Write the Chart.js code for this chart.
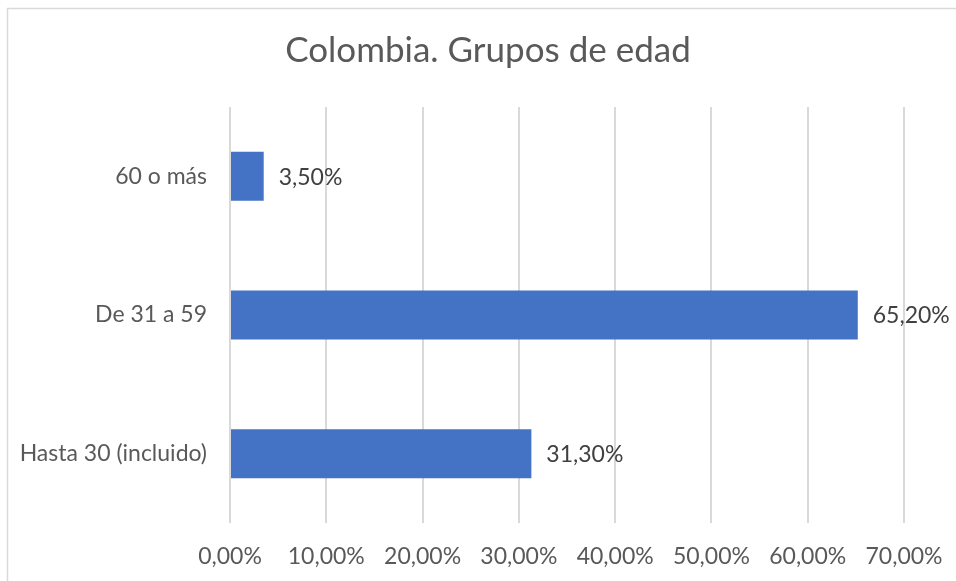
<!DOCTYPE html>
<html>
<head>
<meta charset="utf-8">
<script src="https://cdn.jsdelivr.net/npm/chart.js@4"></script>
<style>
  html, body { margin: 0; padding: 0; background: #ffffff; }
  #wrap { width: 956px; height: 581px; }
</style>
</head>
<body>
<div id="wrap"><canvas id="c" width="956" height="581"></canvas></div>
<script>
// Age groups and their share of the total (percent)
const categories = ['60 o más', 'De 31 a 59', 'Hasta 30 (incluido)'];
const shares = [3.5, 65.2, 31.3];
const axisTicks = [0, 10, 20, 30, 40, 50, 60, 70];
const titleText = 'Colombia. Grupos de edad';

const FONT = 'Lato, "Open Sans", sans-serif';
const AXIS_GREY = '#595959';
const LABEL_GREY = '#404040';
const LINE_GREY = '#d9d9d9';

// Spanish-style percentage: two decimals, comma separator
const fmt = v => Number(v).toFixed(2).replace('.', ',') + '%';

// Thin frame around the chart
const frame = {
  id: 'frame',
  beforeDraw(chart) {
    const ctx = chart.ctx;
    ctx.save();
    ctx.strokeStyle = LINE_GREY;
    ctx.lineWidth = 1.5;
    ctx.beginPath();
    ctx.moveTo(7.5, chart.height + 2);
    ctx.lineTo(7.5, 8.5);
    ctx.lineTo(chart.width + 2, 8.5);
    ctx.stroke();
    ctx.restore();
  }
};

// Chart title, centred on the framed area
const heading = {
  id: 'heading',
  afterDraw(chart) {
    const ctx = chart.ctx;
    ctx.save();
    ctx.font = '35px ' + FONT;
    ctx.fillStyle = AXIS_GREY;
    ctx.textAlign = 'center';
    ctx.textBaseline = 'alphabetic';
    ctx.fillText(titleText, 488, 62);
    ctx.restore();
  }
};

// Value labels placed just past the end of each bar
const valueLabels = {
  id: 'valueLabels',
  afterDatasetsDraw(chart) {
    const ctx = chart.ctx;
    const meta = chart.getDatasetMeta(0);
    ctx.save();
    ctx.font = '23px ' + FONT;
    ctx.fillStyle = LABEL_GREY;
    ctx.textAlign = 'left';
    ctx.textBaseline = 'middle';
    meta.data.forEach((bar, i) => {
      ctx.fillText(fmt(chart.data.datasets[0].data[i]), bar.x + 15, bar.y + 1);
    });
    ctx.restore();
  }
};

new Chart(document.getElementById('c'), {
  type: 'bar',
  data: {
    labels: categories,
    datasets: [{
      data: shares,
      backgroundColor: '#4472C4',
      borderWidth: 0,
      categoryPercentage: 1,
      barPercentage: 0.353
    }]
  },
  options: {
    indexAxis: 'y',
    responsive: false,
    animation: false,
    devicePixelRatio: 1,
    layout: { padding: { left: 0, right: 52, top: 107, bottom: 0 } },
    plugins: {
      legend: { display: false },
      tooltip: { enabled: false },
      title: { display: false }
    },
    scales: {
      x: {
        min: axisTicks[0],
        max: axisTicks[axisTicks.length - 1],
        afterBuildTicks(scale) {
          scale.ticks = axisTicks.map(v => ({ value: v }));
        },
        afterFit(scale) {
          scale.height = 58;
          scale.paddingLeft = 0;
          scale.paddingRight = 0;
        },
        grid: { color: LINE_GREY, lineWidth: 2, drawTicks: false },
        border: { display: false },
        ticks: {
          color: AXIS_GREY,
          font: { family: FONT, size: 23 },
          padding: 20,
          callback: v => fmt(v)
        }
      },
      y: {
        afterFit(scale) { scale.width = 230; },
        grid: { display: false, drawTicks: false },
        border: { display: false },
        ticks: {
          color: AXIS_GREY,
          font: { family: FONT, size: 23 },
          padding: 23
        }
      }
    }
  },
  plugins: [frame, heading, valueLabels]
});
</script>
</body>
</html>
